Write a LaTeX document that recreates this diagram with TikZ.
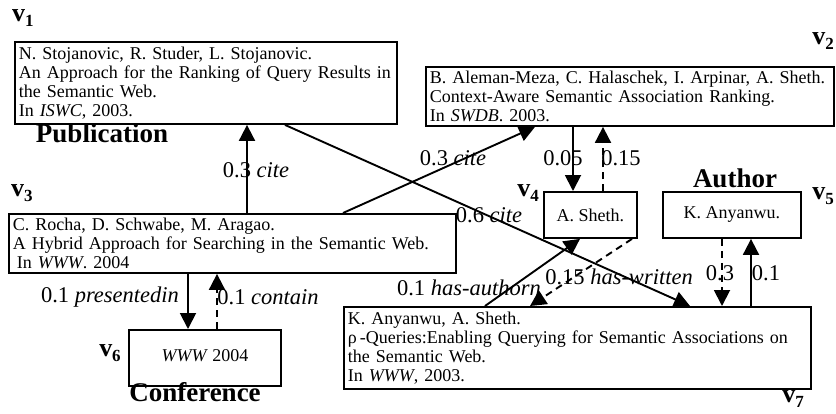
\documentclass[tikz,border=0pt]{standalone}
\usepackage{fontspec}
\setmainfont{Liberation Serif}
\usetikzlibrary{arrows.meta,calc}
\begin{document}
\begin{tikzpicture}[x=1pt,y=-1pt,
  box/.style={draw, line width=1.9pt, anchor=north west, inner xsep=4pt, inner ysep=0pt,
    font=\fontsize{18}{19}\selectfont, align=left},
  cbox/.style={draw, line width=1.9pt, anchor=north west, inner sep=0pt,
    font=\fontsize{18}{19}\selectfont, align=center},
  arr/.style={line width=1.9pt, -{Triangle[length=16pt,width=16pt]}},
  darr/.style={arr, dash pattern=on 7pt off 5pt},
  elab/.style={font=\fontsize{22.5}{24}\selectfont, inner sep=0pt},
  blab/.style={font=\fontsize{27}{28}\selectfont\bfseries, inner sep=0pt},
  vlab/.style={font=\fontsize{26}{26}\selectfont\bfseries, inner sep=0pt}]
\useasboundingbox (0,0) rectangle (836,413);
\newcommand{\vsub}[1]{v\raisebox{-5pt}{\fontsize{17}{17}\selectfont #1}}

% boxes
\node[box, text width=374pt, minimum height=82pt] (v1) at (14,41)
  {N. Stojanovic, R. Studer, L. Stojanovic.\\An Approach for the Ranking of Query Results in\\the Semantic Web.\\In \textit{ISWC}, 2003.};
\node[box, text width=400pt, minimum height=59pt] (v2) at (425,66)
  {B. Aleman-Meza, C. Halaschek, I. Arpinar, A. Sheth.\\Context-Aware Semantic Association Ranking.\\In \textit{SWDB}. 2003.};
\node[box, text width=439pt, minimum height=59pt] (v3) at (8,213)
  {C. Rocha, D. Schwabe, M. Aragao.\\A Hybrid Approach for Searching in the Semantic Web.\\\hspace*{4pt}In \textit{WWW}. 2004};
\node[cbox, minimum width=93pt, minimum height=46pt] (v4) at (543,191) {A. Sheth.};
\node[cbox, minimum width=138pt, minimum height=46pt] (v5) at (662,191) {K. Anyanwu.};
\node[cbox, minimum width=152pt, minimum height=56pt] (v6) at (128,329) {\raisebox{5pt}{\textit{WWW} 2004}};
\node[box, text width=459pt, minimum height=82pt] (v7) at (343,306)
  {K. Anyanwu, A. Sheth.\\\makebox[\linewidth][s]{ρ\,-Queries:Enabling Querying for Semantic Associations on}\\the Semantic Web.\\In \textit{WWW}, 2003.};

% vertex labels
\node[vlab] (l1) at (23,18) {\vsub{1}};
\node[vlab] (l2) at (823,41) {\vsub{2}};
\node[vlab] (l3) at (22,193) {\vsub{3}};
\node[vlab] (l4) at (528,193) {\vsub{4}};
\node[vlab] (l5) at (823,196) {\vsub{5}};
\node[vlab] (l6) at (110,353) {\vsub{6}};
\node[vlab] (l7) at (793,399) {\vsub{7}};

% type labels
\node[blab] (pub) at (102,133) {Publication};
\node[blab] (conf) at (195,392) {Conference};
\node[blab] (auth) at (735,178) {Author};

% edges
\draw[arr] ([xshift=239pt]v3.north west) -- ([xshift=233pt]v1.south west);
\draw[arr] ([xshift=335pt]v3.north west) -- ([xshift=110pt]v2.south west);
\draw[arr] ([xshift=271pt]v1.south west) -- ([xshift=347pt]v7.north west);
\draw[arr] ([xshift=148pt]v2.south west) -- ([xshift=30pt]v4.north west);
\draw[darr] ([xshift=60pt]v4.north west) -- ([xshift=178pt]v2.south west);
\draw[arr] ([xshift=142pt]v7.north west) -- ([xshift=37pt]v4.south west);
\draw[darr] ([xshift=89pt]v4.south west) -- ([xshift=187pt]v7.north west);
\draw[darr] ([xshift=60pt]v5.south west) -- ([xshift=379pt]v7.north west);
\draw[arr] ([xshift=408pt]v7.north west) -- ([xshift=89pt]v5.south west);
\draw[arr] ([xshift=180pt]v3.south west) -- ([xshift=60pt]v6.north west);
\draw[darr] ([xshift=89pt]v6.north west) -- ([xshift=209pt]v3.south west);

% edge labels
\node[elab] (e1) at (256,170) {0.3 \textit{cite}};
\node[elab] (e2) at (453,158) {0.3 \textit{cite}};
\node[elab] (e3) at (489,215) {0.6 \textit{cite}};
\node[elab] (e4) at (563,158) {0.05};
\node[elab] (e5) at (621,158) {0.15};
\node[elab] (e6) at (469,288) {0.1 \textit{has-authorn}};
\node[elab] (e7) at (619,277) {0.15 \textit{has-written}};
\node[elab] (e8) at (720,273) {0.3};
\node[elab] (e9) at (766,273) {0.1};
\node[elab] (e10) at (110,297) {0.1 \textit{presentedin}};
\node[elab] (e11) at (268,297) {0.1 \textit{contain}};
\end{tikzpicture}
\end{document}
